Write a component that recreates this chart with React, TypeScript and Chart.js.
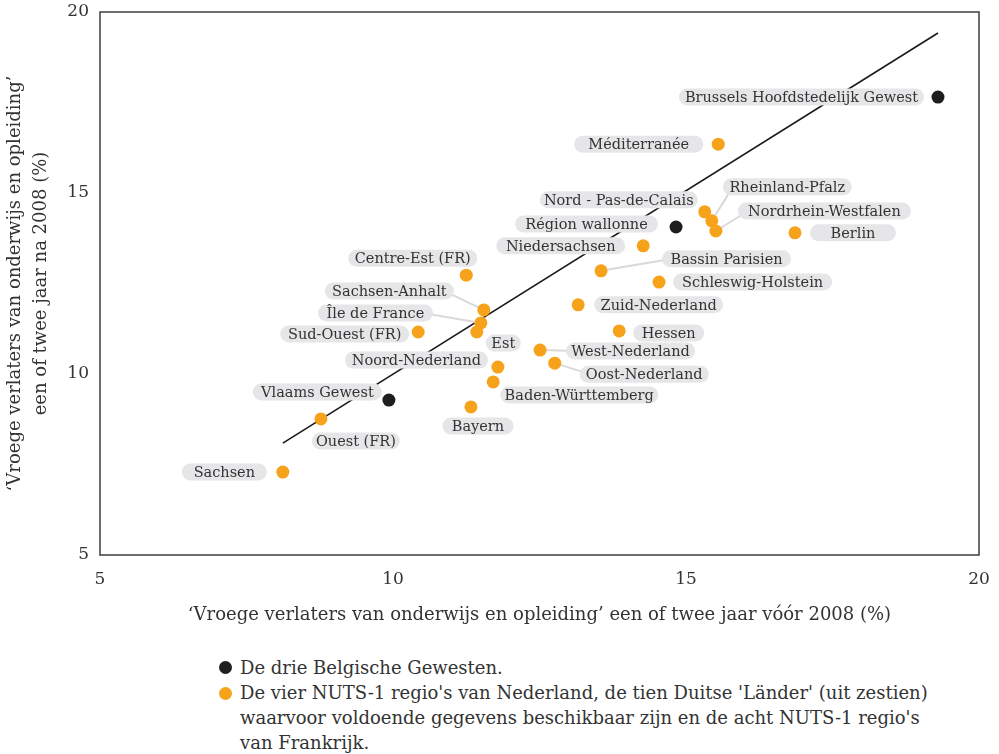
import React, { useEffect, useRef } from "react";
import { Chart, registerables } from "chart.js";

Chart.register(...registerables);

// ---------- data ----------
const regions = [
  "Brussels Hoofdstedelijk Gewest",
  "Région wallonne",
  "Vlaams Gewest",
  "Méditerranée",
  "Nord - Pas-de-Calais",
  "Rheinland-Pfalz",
  "Nordrhein-Westfalen",
  "Berlin",
  "Niedersachsen",
  "Bassin Parisien",
  "Schleswig-Holstein",
  "Centre-Est (FR)",
  "Zuid-Nederland",
  "Sachsen-Anhalt",
  "Île de France",
  "Est",
  "Sud-Ouest (FR)",
  "Hessen",
  "West-Nederland",
  "Oost-Nederland",
  "Noord-Nederland",
  "Baden-Württemberg",
  "Bayern",
  "Ouest (FR)",
  "Sachsen",
];
const before2008 = [
  19.3, 14.83, 9.93, 15.55, 15.32, 15.44, 15.51, 16.86, 14.27, 13.55, 14.54, 11.25, 13.16,
  11.55, 11.5, 11.43, 10.43, 13.86, 12.51, 12.76, 11.79, 11.71, 11.33, 8.77, 8.12,
];
const after2008 = [
  17.65, 14.06, 9.28, 16.35, 14.48, 14.23, 13.95, 13.9, 13.54, 12.85, 12.54, 12.73, 11.91,
  11.77, 11.41, 11.16, 11.16, 11.19, 10.66, 10.3, 10.19, 9.78, 9.09, 8.76, 7.29,
];
const belgian = [
  true, true, true, false, false, false, false, false, false, false, false, false, false,
  false, false, false, false, false, false, false, false, false, false, false, false,
];
const trendX = [8.12, 19.3];
const trendY = [8.09, 19.42];
const axisTicks = [5, 10, 15, 20];

const xTitle = "‘Vroege verlaters van onderwijs en opleiding’ een of twee jaar vóór 2008 (%)";
const yTitle = ["‘Vroege verlaters van onderwijs en opleiding’", "een of twee jaar na 2008 (%)"];
const legendBelgian = "De drie Belgische Gewesten.";
const legendOther = [
  "De vier NUTS-1 regio's van Nederland, de tien Duitse 'Länder' (uit zestien)",
  "waarvoor voldoende gegevens beschikbaar zijn en de acht NUTS-1 regio's",
  "van Frankrijk.",
];

// ---------- label placement (pixel offsets from the dot; style, not data) ----------
// [dx, dy, anchor, leader, pillWidth]  anchor: "r" = pill right edge, "l" = pill left edge, "c" = centre
const labelPlacement: [number, number, string, boolean, number][] = [
  [-14, 0, "r", false, 245],
  [-18, -3, "r", false, 143],
  [-7, -8, "r", false, 129],
  [-15, 0, "r", false, 129],
  [-7, -12, "r", false, 158],
  [11, -34, "l", true, 129],
  [22, -20, "l", true, 173],
  [15, 0, "l", false, 86],
  [-18, 0, "r", false, 129],
  [61, -12, "l", true, 129],
  [14, 0, "l", false, 159],
  [11, -17, "r", false, 129],
  [16, 0, "l", false, 129],
  [-30, -19, "r", true, 129],
  [-48, -10, "r", true, 115],
  [9, 11, "l", false, 35],
  [-9, 2, "r", false, 129],
  [14, 2, "l", false, 71],
  [26, 1, "l", true, 129],
  [25, 11, "l", true, 129],
  [-10, -7, "r", false, 143],
  [7, 13, "l", false, 158],
  [7, 19, "c", false, 71],
  [-9, 22, "l", false, 85],
  [-16, 0, "r", false, 85],
];

const SERIF = "'DejaVu Serif', 'Liberation Serif', serif";
const TEXT = "#333333";
const ORANGE = "#f6a31b";
const BLACK = "#1e1e1e";
const PILL = "#e6e6e8";

const CW = 999;
const CH = 640;

const labelsPlugin = {
  id: "regionLabels",
  beforeDatasetsDraw(chart: any) {
    const { ctx, chartArea } = chart;
    ctx.save();
    ctx.strokeStyle = "#3c3c3c";
    ctx.lineWidth = 1.5;
    ctx.strokeRect(chartArea.left, chartArea.top, chartArea.right - chartArea.left, chartArea.bottom - chartArea.top);
    ctx.restore();
  },
  afterDatasetDraw(chart: any, args: any) {
    if (args.index !== 0) return;
    const { ctx, scales } = chart;
    const xs = scales.x;
    const ys = scales.y;
    ctx.save();
    ctx.font = `14.5px ${SERIF}`;
    ctx.textBaseline = "middle";
    const h = 17;
    const boxes = regions.map((name, i) => {
      const px = xs.getPixelForValue(before2008[i]);
      const py = ys.getPixelForValue(after2008[i]);
      const [dx, dy, anchor, , pw] = labelPlacement[i];
      const w = Math.max(pw, ctx.measureText(name).width + 8);
      let left;
      if (anchor === "r") left = px + dx - w;
      else if (anchor === "l") left = px + dx;
      else left = px + dx - w / 2;
      return { px, py, left, top: py + dy - h / 2, w, cy: py + dy };
    });
    // leaders
    ctx.strokeStyle = "#d9d9db";
    ctx.lineWidth = 2;
    boxes.forEach((b, i) => {
      if (!labelPlacement[i][3]) return;
      const anchor = labelPlacement[i][2];
      const tx = anchor === "r" ? b.left + b.w - 10 : b.left + 10;
      ctx.beginPath();
      ctx.moveTo(b.px, b.py);
      ctx.lineTo(tx, b.cy);
      ctx.stroke();
    });
    // pills and text
    boxes.forEach((b, i) => {
      ctx.fillStyle = PILL;
      ctx.beginPath();
      ctx.roundRect(b.left, b.top, b.w, h, h / 2);
      ctx.fill();
      ctx.fillStyle = TEXT;
      ctx.textAlign = "center";
      ctx.fillText(regions[i], b.left + b.w / 2, b.cy + 1);
    });
    ctx.restore();
  },
};

export default function App() {
  const ref = useRef<HTMLCanvasElement>(null);
  useEffect(() => {
    if (!ref.current) return;
    const pts = (flag: boolean) =>
      regions
        .map((_, i) => ({ x: before2008[i], y: after2008[i], b: belgian[i] }))
        .filter((p) => p.b === flag)
        .map((p) => ({ x: p.x, y: p.y }));
    const chart = new Chart(ref.current, {
      type: "scatter",
      data: {
        datasets: [
          {
            label: "trend",
            data: trendX.map((x, i) => ({ x, y: trendY[i] })),
            showLine: true,
            borderColor: "#1a1a1a",
            borderWidth: 1.6,
            pointRadius: 0,
            order: 3,
          },
          {
            label: legendBelgian,
            data: pts(true),
            backgroundColor: BLACK,
            borderWidth: 0,
            pointRadius: 6.5,
            order: 1,
          },
          {
            label: legendOther.join(" "),
            data: pts(false),
            backgroundColor: ORANGE,
            borderWidth: 0,
            pointRadius: 6.5,
            order: 2,
          },
        ],
      },
      options: {
        animation: false,
        responsive: false,
        devicePixelRatio: 1,
        events: [],
        layout: { padding: { top: 12, right: 20, left: 0, bottom: 0 } },
        plugins: { legend: { display: false }, tooltip: { enabled: false } },
        scales: {
          x: {
            type: "linear",
            min: 5,
            max: 20,
            afterFit: (s: any) => {
              s.height = 85;
              s.paddingLeft = 0;
              s.paddingRight = 0;
              s.paddingTop = 0;
              s.paddingBottom = 0;
            },
            afterBuildTicks: (s: any) => {
              s.ticks = axisTicks.map((v) => ({ value: v }));
            },
            grid: { display: false, drawTicks: false },
            border: { display: false },
            ticks: { padding: 14, color: TEXT, font: { family: SERIF, size: 17 } },
            title: {
              display: true,
              text: xTitle,
              color: TEXT,
              font: { family: SERIF, size: 18 },
              padding: { top: 0, bottom: 14 },
            },
          },
          y: {
            type: "linear",
            min: 5,
            max: 20,
            afterFit: (s: any) => {
              s.width = 100;
              s.paddingLeft = 0;
              s.paddingRight = 0;
              s.paddingTop = 0;
              s.paddingBottom = 0;
            },
            afterBuildTicks: (s: any) => {
              s.ticks = axisTicks.map((v) => ({ value: v }));
            },
            grid: { display: false, drawTicks: false },
            border: { display: false },
            ticks: { padding: 11, color: TEXT, font: { family: SERIF, size: 17 } },
            title: {
              display: true,
              text: yTitle,
              color: TEXT,
              font: { family: SERIF, size: 18, lineHeight: 1.45 },
              padding: { top: 2, bottom: 0 },
            },
          },
        },
      },
      plugins: [labelsPlugin],
    });
    return () => chart.destroy();
  }, []);

  const legendText: React.CSSProperties = {
    position: "absolute",
    left: 240,
    fontFamily: SERIF,
    fontSize: 18,
    lineHeight: "25px",
    color: TEXT,
    whiteSpace: "nowrap",
  };
  const dot = (color: string, top: number): React.CSSProperties => ({
    position: "absolute",
    left: 219,
    top,
    width: 13,
    height: 13,
    borderRadius: "50%",
    background: color,
  });

  return (
    <div style={{ position: "absolute", left: 0, top: 0, width: CW, height: 754, background: "#fff" }}>
      <canvas ref={ref} width={CW} height={CH} style={{ position: "absolute", left: 0, top: 0 }} />
      <span style={dot(BLACK, 661)} />
      <div style={{ ...legendText, top: 655 }}>{legendBelgian}</div>
      <span style={dot(ORANGE, 687)} />
      <div style={{ ...legendText, top: 680 }}>
        {legendOther.map((l, i) => (
          <div key={i}>{l}</div>
        ))}
      </div>
    </div>
  );
}
